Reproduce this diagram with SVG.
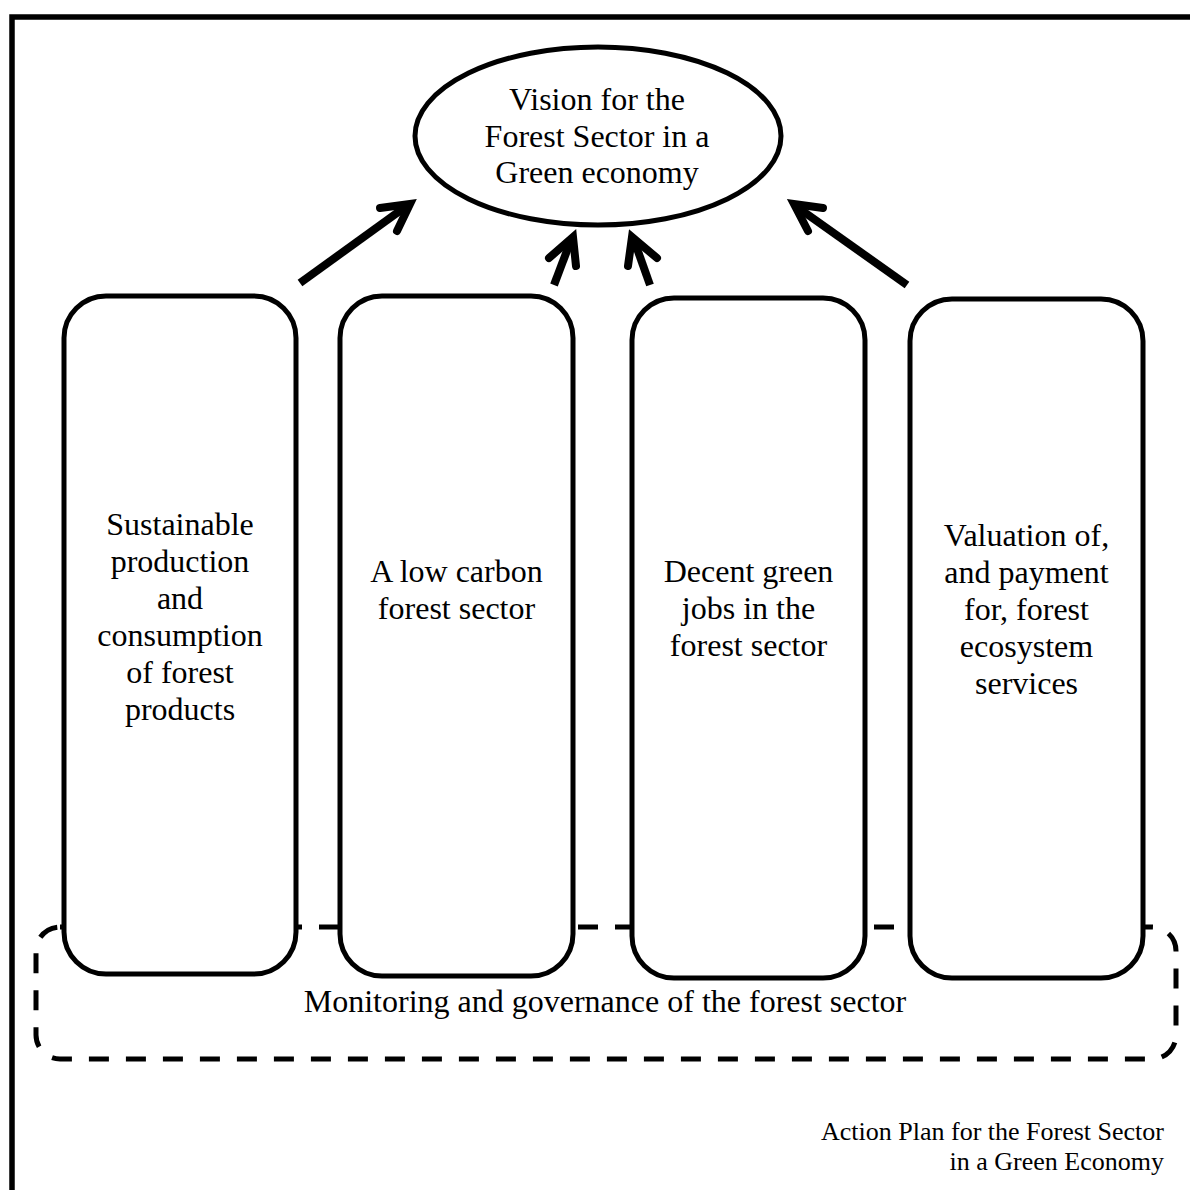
<svg xmlns="http://www.w3.org/2000/svg" width="1190" height="1190" viewBox="0 0 1190 1190">
  <defs>
    <style>
      .frame { fill: none; stroke: #000; stroke-width: 5.5; }
      .box { fill: #fff; stroke: #000; stroke-width: 5; }
      .dash { fill: none; stroke: #000; stroke-width: 5; stroke-dasharray: 20 17; }
      .arrow { fill: none; stroke: #000; stroke-width: 8; stroke-linecap: round; stroke-linejoin: miter; }
      .arrow .shaft { stroke-linecap: butt; }
      text { font-family: "Liberation Serif", "Times New Roman", serif; fill: #000; }
      .lbl { font-size: 32px; text-anchor: middle; }
      .foot { font-size: 26px; text-anchor: end; }
    </style>
    <clipPath id="pageclip">
      <rect x="0" y="0" width="1190" height="1175"/>
    </clipPath>
  </defs>
  <rect width="1190" height="1190" fill="#fff"/>
  <rect class="frame" x="12" y="17" width="1200" height="1200"/>

  <g id="monitoring">
    <rect class="dash" x="36" y="927" width="1140" height="132" rx="24" ry="24"/>
    <text class="lbl" x="605" y="1012">Monitoring and governance of the forest sector</text>
  </g>

  <g id="vision">
    <ellipse cx="598" cy="136" rx="183" ry="89" fill="#fff" stroke="#000" stroke-width="5"/>
    <text class="lbl" x="597" y="110">Vision for the</text>
    <text class="lbl" x="597" y="147">Forest Sector in a</text>
    <text class="lbl" x="597" y="183">Green economy</text>
  </g>

  <g id="box1">
    <rect class="box" x="64" y="296" width="232" height="678" rx="42" ry="42"/>
    <text class="lbl" x="180" y="535">Sustainable</text>
    <text class="lbl" x="180" y="572">production</text>
    <text class="lbl" x="180" y="609">and</text>
    <text class="lbl" x="180" y="646">consumption</text>
    <text class="lbl" x="180" y="683">of forest</text>
    <text class="lbl" x="180" y="720">products</text>
  </g>

  <g id="box2">
    <rect class="box" x="340" y="296" width="233" height="680" rx="42" ry="42"/>
    <text class="lbl" x="456.5" y="582">A low carbon</text>
    <text class="lbl" x="456.5" y="619">forest sector</text>
  </g>

  <g id="box3">
    <rect class="box" x="632" y="298" width="233" height="680" rx="42" ry="42"/>
    <text class="lbl" x="748.5" y="582">Decent green</text>
    <text class="lbl" x="748.5" y="619">jobs in the</text>
    <text class="lbl" x="748.5" y="656">forest sector</text>
  </g>

  <g id="box4">
    <rect class="box" x="910" y="299" width="233" height="679" rx="42" ry="42"/>
    <text class="lbl" x="1026.5" y="546">Valuation of,</text>
    <text class="lbl" x="1026.5" y="583">and payment</text>
    <text class="lbl" x="1026.5" y="620">for, forest</text>
    <text class="lbl" x="1026.5" y="657">ecosystem</text>
    <text class="lbl" x="1026.5" y="694">services</text>
  </g>

  <g id="connectors" class="arrow">
    <line class="shaft" x1="300" y1="283" x2="408" y2="205"/>
    <polyline points="380,208 410,204 397,231"/>
    <line class="shaft" x1="554" y1="285" x2="571" y2="240"/>
    <polyline points="549,258 573,237 576,266"/>
    <line class="shaft" x1="650" y1="285" x2="634" y2="240"/>
    <polyline points="628,266 632,237 657,258"/>
    <line class="shaft" x1="907" y1="285" x2="797" y2="207"/>
    <polyline points="823,208 794,204 808,231"/>
  </g>

  <g id="footer" clip-path="url(#pageclip)">
    <text class="foot" x="1164" y="1140">Action Plan for the Forest Sector</text>
    <text class="foot" x="1164" y="1170">in a Green Economy</text>
  </g>
</svg>
